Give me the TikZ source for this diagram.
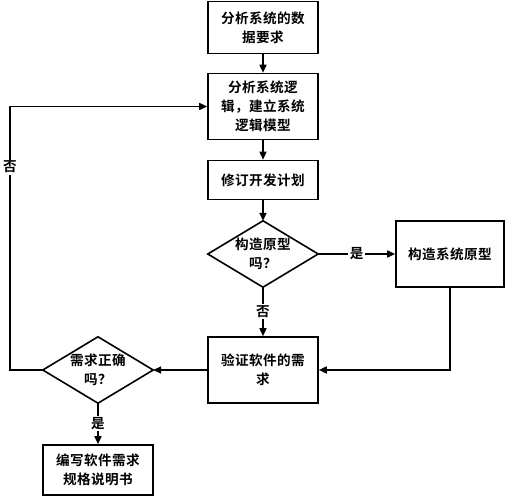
\documentclass[tikz,border=0pt]{standalone}
\usepackage{fontspec}
\newfontfamily\cjk[LetterSpace=3]{Noto Sans CJK SC Bold}
\usetikzlibrary{arrows.meta}
\begin{document}
\begin{tikzpicture}[x=1pt,y=-1pt,
  every node/.style={font=\cjk\fontsize{13.6}{19}\selectfont},
  box/.style={draw, line width=1.6pt, minimum width=110pt, align=center, inner sep=0pt},
  dia/.style={minimum width=110pt, minimum height=66pt, inner sep=0pt, align=center},
  conn/.style={line width=1.6pt, -{Triangle[length=8pt,width=7pt]}},
  lab/.style={fill=white, inner sep=1.5pt}]
\useasboundingbox (0,0) rectangle (506,500);
\node[box, minimum height=52pt] (b1) at (263,27.5) {分析系统的数\\据要求};
\node[box, minimum height=66pt] (b2) at (263,106.5) {分析系统逻\\辑，建立系统\\逻辑模型};
\node[box, minimum height=39pt] (b3) at (263,180) {修订开发计划};
\node[dia] (d1) at (263,254) {构造原型\\吗？};
\draw[line width=1.6pt] (d1.north) -- (d1.east) -- (d1.south) -- (d1.west) -- cycle;
\node[box, minimum width=108pt, minimum height=66pt] (b4) at (450,254) {构造系统原型};
\node[box, minimum height=66pt] (b5) at (263,370) {验证软件的需\\求};
\node[dia] (d2) at (98,370) {需求正确\\吗？};
\draw[line width=1.6pt] (d2.north) -- (d2.east) -- (d2.south) -- (d2.west) -- cycle;
\node[box, minimum height=50pt] (b6) at (98,470) {编写软件需求\\规格说明书};
\coordinate (lp) at (10,370);
\draw[conn] (b1.south) -- (b2.north);
\draw[conn] (b2.south) -- (b3.north);
\draw[conn] (b3.south) -- (d1.north);
\draw[conn] (d1.east) -- node[lab, pos=0.5] {是} (b4.west);
\draw[conn] (d1.south) -- node[lab, pos=0.5] {否} (b5.north);
\draw[conn] (b4.south) |- (b5.east);
\draw[conn] (b5.west) -- (d2.east);
\draw[conn] (d2.west) -- (lp) -- node[lab, pos=0.77] {否} (lp |- b2.west) -- (b2.west);
\draw[conn] (d2.south) -- node[lab, pos=0.5] {是} (b6.north);
\end{tikzpicture}
\end{document}
